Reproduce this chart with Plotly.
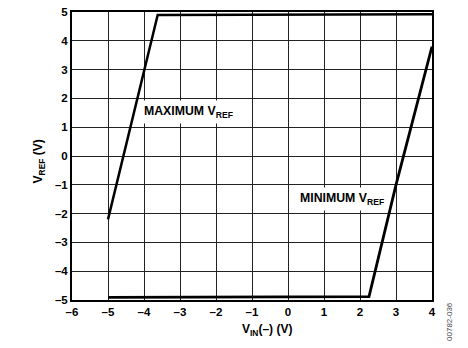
import plotly.graph_objects as go

max_x = [-5.0, -4.0, -3.62, 4.0]
max_y = [-2.2, 3.0, 4.9, 4.92]
min_x = [-5.0, 2.25, 3.0, 4.0]
min_y = [-4.91, -4.88, -1.0, 3.8]
x_ticks = [-6, -5, -4, -3, -2, -1, 0, 1, 2, 3, 4]
y_ticks = [-5, -4, -3, -2, -1, 0, 1, 2, 3, 4, 5]

def lab(v):
    return str(v).replace("-", "\u2013")

FAM = "Liberation Sans, Arial, sans-serif"
font = dict(family=FAM, size=11, color="black")

fig = go.Figure()
fig.add_trace(go.Scatter(x=max_x, y=max_y, mode="lines",
                         line=dict(color="black", width=2.5), showlegend=False))
fig.add_trace(go.Scatter(x=min_x, y=min_y, mode="lines",
                         line=dict(color="black", width=2.8), showlegend=False))

fig.update_layout(
    width=468, height=348,
    margin=dict(l=72, r=36, t=12, b=48),
    paper_bgcolor="white", plot_bgcolor="white",
    font=font,
    xaxis=dict(range=[-6, 4], tickvals=x_ticks, ticktext=["<b>%s</b>" % lab(v) for v in x_ticks],
               showgrid=True, gridcolor="#222", gridwidth=1, zeroline=False,
               showline=True, linecolor="black", linewidth=2, mirror=True,
               ticks="", ticklen=0, automargin=False, tickfont=dict(size=11.5)),
    yaxis=dict(range=[-5, 5], tickvals=y_ticks, ticktext=["<b>%s</b>" % lab(v) for v in y_ticks],
               showgrid=True, gridcolor="#222", gridwidth=1, zeroline=False,
               showline=True, linecolor="black", linewidth=2, mirror=True,
               ticks="", ticklen=0, automargin=False, tickfont=dict(size=11.5)),
)

# series labels
fig.add_annotation(x=-4.1, y=1.53, text="<b>MAXIMUM V<sub>REF</sub></b>", showarrow=False,
                   xanchor="left", yanchor="middle", bgcolor="white",
                   font=dict(size=12.3, family=FAM), borderpad=3)
fig.add_annotation(x=2.77, y=-1.49, text="<b>MINIMUM V<sub>REF</sub></b>", showarrow=False,
                   xanchor="right", yanchor="middle", bgcolor="white",
                   font=dict(size=12.3, family=FAM), borderpad=3)
# axis titles
fig.add_annotation(x=-0.58, xref="x", y=-0.104, yref="paper",
                   text="<b>V<sub>IN</sub>(\u2013) (V)</b>", showarrow=False,
                   xanchor="center", yanchor="middle", font=dict(size=12, family=FAM))
fig.add_annotation(x=-0.089, xref="paper", y=-0.19, yref="y",
                   text="<b>V<sub>REF</sub> (V)</b>", showarrow=False, textangle=-90,
                   xanchor="center", yanchor="middle", font=dict(size=12, family=FAM))
# figure id
fig.add_annotation(x=1.047, xref="paper", y=-0.073, yref="paper", text="00782-036",
                   showarrow=False, textangle=-90, xanchor="center", yanchor="middle",
                   font=dict(size=8, color="#444", family=FAM))

fig.write_html("out.html")
